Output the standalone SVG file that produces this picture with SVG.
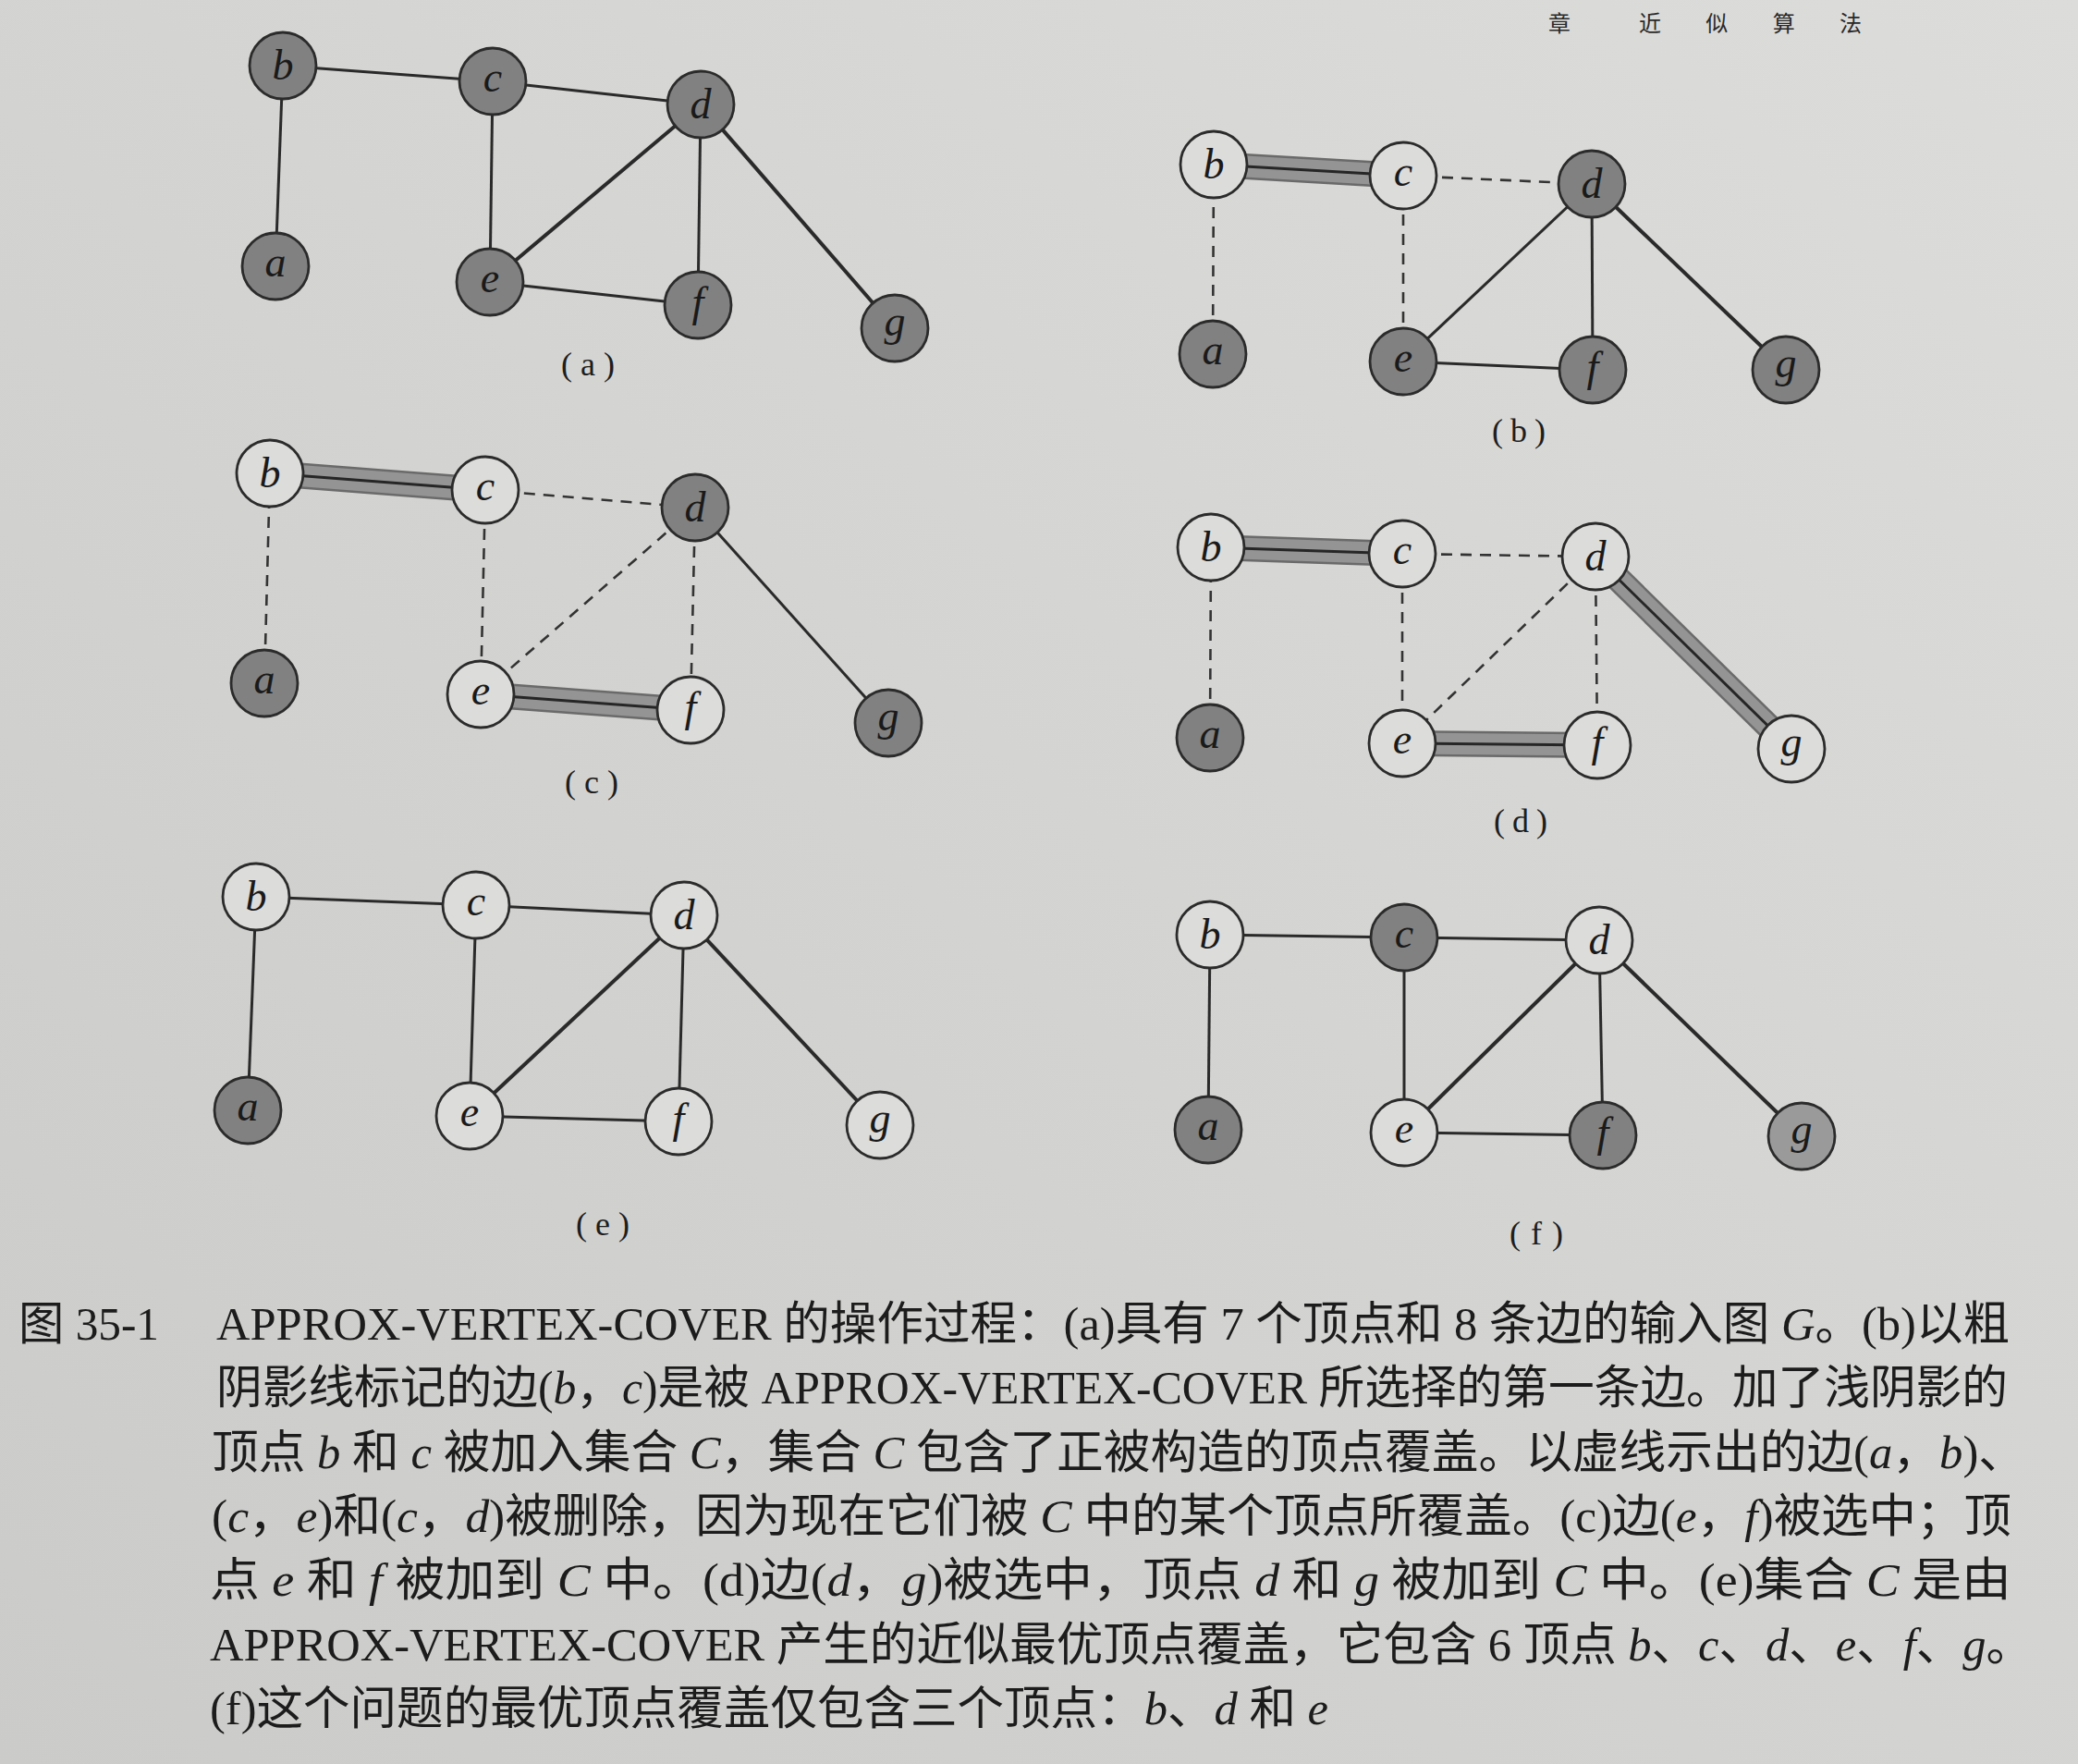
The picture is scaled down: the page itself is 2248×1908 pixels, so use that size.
<svg xmlns="http://www.w3.org/2000/svg" width="2248" height="1908" viewBox="0 0 2248 1908">
<defs>
<linearGradient id="bg" x1="1" y1="0" x2="0" y2="1">
<stop offset="0" stop-color="#dcdcda"/>
<stop offset="1" stop-color="#cbcbc9"/>
</linearGradient>
<style>
.node circle{stroke:#2b2b2b;stroke-width:2.8}
.dk circle{fill:#818181}
.md circle{fill:#9a9a9a}
.lt circle{fill:#dcdcda}
.node text{font-family:"Liberation Serif",serif;font-style:italic;font-size:46px;text-anchor:middle;fill:#1a1a1a}
.e{stroke:#2a2a2a;stroke-width:3;fill:none}
.w{stroke-width:4}
.ds{stroke:#333;stroke-width:2.6;stroke-dasharray:12 9;fill:none}
.b1{stroke:#6a6a6a;stroke-width:28}
.b2{stroke:#949494;stroke-width:23}
.b3{stroke:#262626;stroke-width:3}
.pl{font-family:"Liberation Serif",serif;font-size:36px;text-anchor:middle;fill:#1e1e1e}
.cap{font-family:"Liberation Serif","Noto Sans CJK SC",serif;font-size:50px;fill:#1c1c1c}
.i{font-style:italic}
.hd{font-family:"Noto Sans CJK SC",sans-serif;font-size:24px;fill:#2a2a2a}
</style>
</defs>
<rect x="0" y="0" width="2248" height="1908" fill="url(#bg)"/>

<g id="header">
<text class="hd" x="1675" y="34">章</text>
<text class="hd" x="1773" y="34" textLength="241" lengthAdjust="spacing">近似算法</text>
</g>

<g id="connectors">
<g id="edges-a">
<line class="e" x1="298" y1="288" x2="306" y2="71"/>
<line class="e" x1="306" y1="71" x2="533" y2="88"/>
<line class="e" x1="533" y1="88" x2="758" y2="113"/>
<line class="e" x1="533" y1="88" x2="530" y2="305"/>
<line class="e w" x1="758" y1="113" x2="530" y2="305"/>
<line class="e" x1="758" y1="113" x2="755" y2="330"/>
<line class="e w" x1="758" y1="113" x2="968" y2="355"/>
<line class="e" x1="530" y1="305" x2="755" y2="330"/>
</g>
<g id="edges-b">
<line class="b1" x1="1313" y1="178" x2="1518" y2="190"/>
<line class="b2" x1="1313" y1="178" x2="1518" y2="190"/>
<line class="b3" x1="1313" y1="178" x2="1518" y2="190"/>
<line class="ds" x1="1312" y1="383" x2="1313" y2="178"/>
<line class="ds" x1="1518" y1="190" x2="1722" y2="199"/>
<line class="ds" x1="1518" y1="190" x2="1518" y2="391"/>
<line class="e" x1="1722" y1="199" x2="1518" y2="391"/>
<line class="e" x1="1722" y1="199" x2="1723" y2="400"/>
<line class="e w" x1="1722" y1="199" x2="1932" y2="400"/>
<line class="e" x1="1518" y1="391" x2="1723" y2="400"/>
</g>
<g id="edges-c">
<line class="b1" x1="292" y1="512" x2="525" y2="530"/>
<line class="b2" x1="292" y1="512" x2="525" y2="530"/>
<line class="b3" x1="292" y1="512" x2="525" y2="530"/>
<line class="b1" x1="520" y1="751" x2="747" y2="768"/>
<line class="b2" x1="520" y1="751" x2="747" y2="768"/>
<line class="b3" x1="520" y1="751" x2="747" y2="768"/>
<line class="ds" x1="286" y1="739" x2="292" y2="512"/>
<line class="ds" x1="525" y1="530" x2="752" y2="549"/>
<line class="ds" x1="525" y1="530" x2="520" y2="751"/>
<line class="ds" x1="752" y1="549" x2="520" y2="751"/>
<line class="ds" x1="752" y1="549" x2="747" y2="768"/>
<line class="e" x1="752" y1="549" x2="961" y2="782"/>
</g>
<g id="edges-d">
<line class="b1" x1="1310" y1="592" x2="1517" y2="599"/>
<line class="b2" x1="1310" y1="592" x2="1517" y2="599"/>
<line class="b3" x1="1310" y1="592" x2="1517" y2="599"/>
<line class="b1" x1="1517" y1="804" x2="1728" y2="806"/>
<line class="b2" x1="1517" y1="804" x2="1728" y2="806"/>
<line class="b3" x1="1517" y1="804" x2="1728" y2="806"/>
<line class="b1" x1="1726" y1="602" x2="1938" y2="810"/>
<line class="b2" x1="1726" y1="602" x2="1938" y2="810"/>
<line class="b3" x1="1726" y1="602" x2="1938" y2="810"/>
<line class="ds" x1="1309" y1="798" x2="1310" y2="592"/>
<line class="ds" x1="1517" y1="599" x2="1726" y2="602"/>
<line class="ds" x1="1517" y1="599" x2="1517" y2="804"/>
<line class="ds" x1="1726" y1="602" x2="1517" y2="804"/>
<line class="ds" x1="1726" y1="602" x2="1728" y2="806"/>
</g>
<g id="edges-e">
<line class="e" x1="268" y1="1201" x2="277" y2="970"/>
<line class="e" x1="277" y1="970" x2="515" y2="979"/>
<line class="e" x1="515" y1="979" x2="740" y2="990"/>
<line class="e" x1="515" y1="979" x2="508" y2="1207"/>
<line class="e w" x1="740" y1="990" x2="508" y2="1207"/>
<line class="e" x1="740" y1="990" x2="734" y2="1213"/>
<line class="e w" x1="740" y1="990" x2="952" y2="1217"/>
<line class="e" x1="508" y1="1207" x2="734" y2="1213"/>
</g>
<g id="edges-f">
<line class="e" x1="1307" y1="1222" x2="1309" y2="1011"/>
<line class="e" x1="1309" y1="1011" x2="1519" y2="1014"/>
<line class="e" x1="1519" y1="1014" x2="1730" y2="1017"/>
<line class="e" x1="1519" y1="1014" x2="1519" y2="1225"/>
<line class="e w" x1="1730" y1="1017" x2="1519" y2="1225"/>
<line class="e" x1="1730" y1="1017" x2="1734" y2="1228"/>
<line class="e w" x1="1730" y1="1017" x2="1949" y2="1229"/>
<line class="e" x1="1519" y1="1225" x2="1734" y2="1228"/>
</g>
</g>

<g id="panel-a">
<g id="a-a" class="node dk"><circle cx="298" cy="288" r="36"/><text x="298" y="299">a</text></g>
<g id="a-b" class="node dk"><circle cx="306" cy="71" r="36"/><text x="306" y="86">b</text></g>
<g id="a-c" class="node dk"><circle cx="533" cy="88" r="36"/><text x="533" y="99">c</text></g>
<g id="a-d" class="node dk"><circle cx="758" cy="113" r="36"/><text x="758" y="128">d</text></g>
<g id="a-e" class="node dk"><circle cx="530" cy="305" r="36"/><text x="530" y="316">e</text></g>
<g id="a-f" class="node dk"><circle cx="755" cy="330" r="36"/><text x="755" y="342">f</text></g>
<g id="a-g" class="node dk"><circle cx="968" cy="355" r="36"/><text x="968" y="363">g</text></g>
<text class="pl" x="636" y="406" textLength="58" lengthAdjust="spacing">(a)</text>
</g>

<g id="panel-b">
<g id="b-a" class="node dk"><circle cx="1312" cy="383" r="36"/><text x="1312" y="394">a</text></g>
<g id="b-b" class="node lt"><circle cx="1313" cy="178" r="36"/><text x="1313" y="193">b</text></g>
<g id="b-c" class="node lt"><circle cx="1518" cy="190" r="36"/><text x="1518" y="201">c</text></g>
<g id="b-d" class="node dk"><circle cx="1722" cy="199" r="36"/><text x="1722" y="214">d</text></g>
<g id="b-e" class="node dk"><circle cx="1518" cy="391" r="36"/><text x="1518" y="402">e</text></g>
<g id="b-f" class="node dk"><circle cx="1723" cy="400" r="36"/><text x="1723" y="412">f</text></g>
<g id="b-g" class="node dk"><circle cx="1932" cy="400" r="36"/><text x="1932" y="408">g</text></g>
<text class="pl" x="1643" y="478" textLength="58" lengthAdjust="spacing">(b)</text>
</g>

<g id="panel-c">
<g id="c-a" class="node dk"><circle cx="286" cy="739" r="36"/><text x="286" y="750">a</text></g>
<g id="c-b" class="node lt"><circle cx="292" cy="512" r="36"/><text x="292" y="527">b</text></g>
<g id="c-c" class="node lt"><circle cx="525" cy="530" r="36"/><text x="525" y="541">c</text></g>
<g id="c-d" class="node dk"><circle cx="752" cy="549" r="36"/><text x="752" y="564">d</text></g>
<g id="c-e" class="node lt"><circle cx="520" cy="751" r="36"/><text x="520" y="762">e</text></g>
<g id="c-f" class="node lt"><circle cx="747" cy="768" r="36"/><text x="747" y="780">f</text></g>
<g id="c-g" class="node dk"><circle cx="961" cy="782" r="36"/><text x="961" y="790">g</text></g>
<text class="pl" x="640" y="858" textLength="58" lengthAdjust="spacing">(c)</text>
</g>

<g id="panel-d">
<g id="d-a" class="node dk"><circle cx="1309" cy="798" r="36"/><text x="1309" y="809">a</text></g>
<g id="d-b" class="node lt"><circle cx="1310" cy="592" r="36"/><text x="1310" y="607">b</text></g>
<g id="d-c" class="node lt"><circle cx="1517" cy="599" r="36"/><text x="1517" y="610">c</text></g>
<g id="d-d" class="node lt"><circle cx="1726" cy="602" r="36"/><text x="1726" y="617">d</text></g>
<g id="d-e" class="node lt"><circle cx="1517" cy="804" r="36"/><text x="1517" y="815">e</text></g>
<g id="d-f" class="node lt"><circle cx="1728" cy="806" r="36"/><text x="1728" y="818">f</text></g>
<g id="d-g" class="node lt"><circle cx="1938" cy="810" r="36"/><text x="1938" y="818">g</text></g>
<text class="pl" x="1645" y="900" textLength="58" lengthAdjust="spacing">(d)</text>
</g>

<g id="panel-e">
<g id="e-a" class="node dk"><circle cx="268" cy="1201" r="36"/><text x="268" y="1212">a</text></g>
<g id="e-b" class="node lt"><circle cx="277" cy="970" r="36"/><text x="277" y="985">b</text></g>
<g id="e-c" class="node lt"><circle cx="515" cy="979" r="36"/><text x="515" y="990">c</text></g>
<g id="e-d" class="node lt"><circle cx="740" cy="990" r="36"/><text x="740" y="1005">d</text></g>
<g id="e-e" class="node lt"><circle cx="508" cy="1207" r="36"/><text x="508" y="1218">e</text></g>
<g id="e-f" class="node lt"><circle cx="734" cy="1213" r="36"/><text x="734" y="1225">f</text></g>
<g id="e-g" class="node lt"><circle cx="952" cy="1217" r="36"/><text x="952" y="1225">g</text></g>
<text class="pl" x="652" y="1336" textLength="58" lengthAdjust="spacing">(e)</text>
</g>

<g id="panel-f">
<g id="f-a" class="node dk"><circle cx="1307" cy="1222" r="36"/><text x="1307" y="1233">a</text></g>
<g id="f-b" class="node lt"><circle cx="1309" cy="1011" r="36"/><text x="1309" y="1026">b</text></g>
<g id="f-c" class="node dk"><circle cx="1519" cy="1014" r="36"/><text x="1519" y="1025">c</text></g>
<g id="f-d" class="node lt"><circle cx="1730" cy="1017" r="36"/><text x="1730" y="1032">d</text></g>
<g id="f-e" class="node lt"><circle cx="1519" cy="1225" r="36"/><text x="1519" y="1236">e</text></g>
<g id="f-f" class="node dk"><circle cx="1734" cy="1228" r="36"/><text x="1734" y="1240">f</text></g>
<g id="f-g" class="node md"><circle cx="1949" cy="1229" r="36"/><text x="1949" y="1237">g</text></g>
<text class="pl" x="1662" y="1346" textLength="58" lengthAdjust="spacing">(f)</text>
</g>

<g id="caption">
<text class="cap" x="20" y="1449" textLength="152" lengthAdjust="spacingAndGlyphs">图 35-1</text>
<text class="cap" x="234" y="1449" textLength="1940" lengthAdjust="spacingAndGlyphs">APPROX-VERTEX-COVER 的操作过程：(a)具有 7 个顶点和 8 条边的输入图 <tspan class="i">G</tspan>。(b)以粗</text>
<text class="cap" x="234" y="1518" textLength="1938" lengthAdjust="spacingAndGlyphs">阴影线标记的边(<tspan class="i">b</tspan>，<tspan class="i">c</tspan>)是被 APPROX-VERTEX-COVER 所选择的第一条边。加了浅阴影的</text>
<text class="cap" x="229" y="1588" textLength="1962" lengthAdjust="spacingAndGlyphs">顶点 <tspan class="i">b</tspan> 和 <tspan class="i">c</tspan> 被加入集合 <tspan class="i">C</tspan>，集合 <tspan class="i">C</tspan> 包含了正被构造的顶点覆盖。以虚线示出的边(<tspan class="i">a</tspan>，<tspan class="i">b</tspan>)、</text>
<text class="cap" x="229" y="1657" textLength="1947" lengthAdjust="spacingAndGlyphs">(<tspan class="i">c</tspan>，<tspan class="i">e</tspan>)和(<tspan class="i">c</tspan>，<tspan class="i">d</tspan>)被删除，因为现在它们被 <tspan class="i">C</tspan> 中的某个顶点所覆盖。(c)边(<tspan class="i">e</tspan>，<tspan class="i">f</tspan>)被选中；顶</text>
<text class="cap" x="227" y="1726" textLength="1949" lengthAdjust="spacingAndGlyphs">点 <tspan class="i">e</tspan> 和 <tspan class="i">f</tspan> 被加到 <tspan class="i">C</tspan> 中。(d)边(<tspan class="i">d</tspan>，<tspan class="i">g</tspan>)被选中，顶点 <tspan class="i">d</tspan> 和 <tspan class="i">g</tspan> 被加到 <tspan class="i">C</tspan> 中。(e)集合 <tspan class="i">C</tspan> 是由</text>
<text class="cap" x="227" y="1796" textLength="1972" lengthAdjust="spacingAndGlyphs">APPROX-VERTEX-COVER 产生的近似最优顶点覆盖，它包含 6 顶点 <tspan class="i">b</tspan>、<tspan class="i">c</tspan>、<tspan class="i">d</tspan>、<tspan class="i">e</tspan>、<tspan class="i">f</tspan>、<tspan class="i">g</tspan>。</text>
<text class="cap" x="227" y="1865" textLength="1210" lengthAdjust="spacingAndGlyphs">(f)这个问题的最优顶点覆盖仅包含三个顶点：<tspan class="i">b</tspan>、<tspan class="i">d</tspan> 和 <tspan class="i">e</tspan></text>
</g>
</svg>
